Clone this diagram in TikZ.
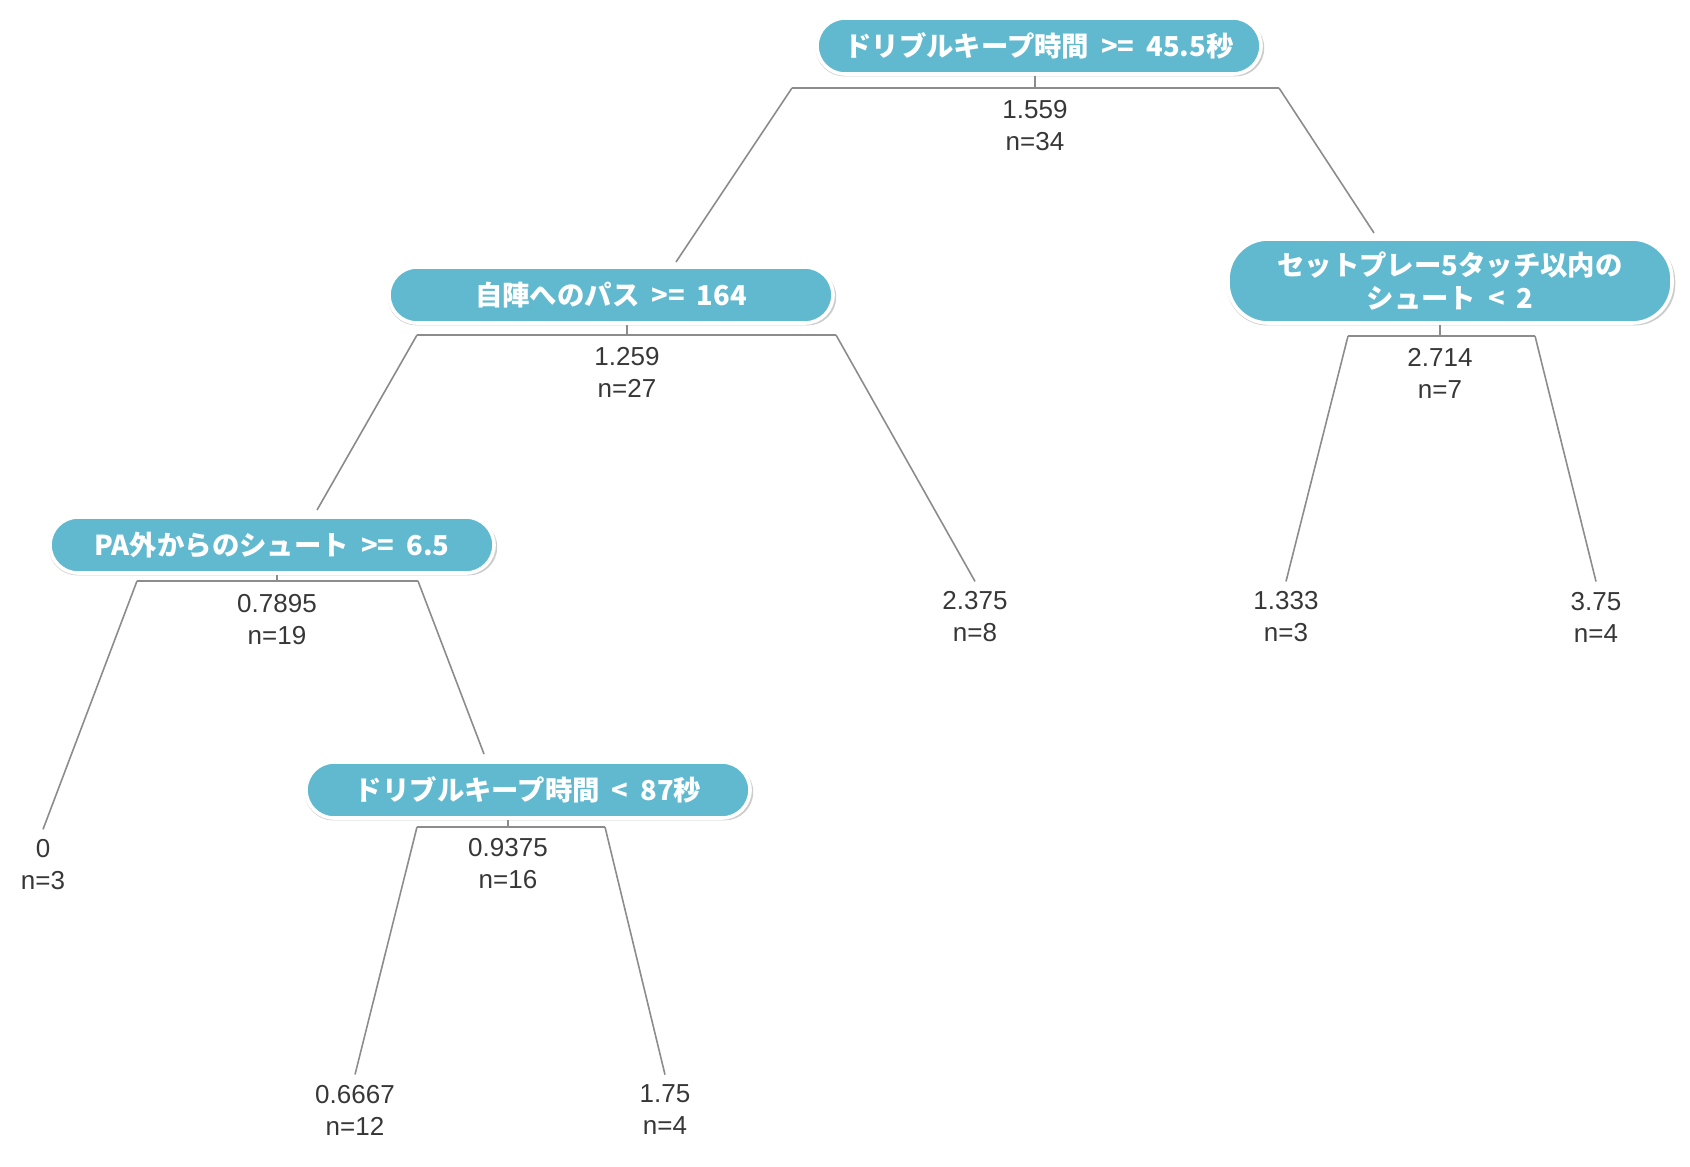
\documentclass[tikz,border=0pt]{standalone}
\usepackage{fontspec}
\setmainfont{Liberation Sans}
\newfontfamily\jpfont{Noto Sans CJK JP}[WordSpace=1.9]
\usetikzlibrary{positioning, shadows}
\definecolor{splitblue}{RGB}{96,185,207}
\definecolor{edgegray}{RGB}{140,140,140}
\definecolor{labelgray}{RGB}{55,55,55}
\tikzset{
  split/.style={draw=white, line width=1.8pt, fill=splitblue, rounded corners=14pt,
    minimum width=222pt, minimum height=28pt, align=center, text=white,
    font=\jpfont\bfseries\fontsize{13.7}{16.5}\selectfont,
    drop shadow={shadow xshift=0.5pt, shadow yshift=-1pt, shadow scale=1.01, opacity=0.4}},
  info/.style={align=center, text=labelgray, font=\fontsize{13}{16}\selectfont, inner sep=1pt},
  edge/.style={draw=edgegray, line width=0.8pt},
}

\begin{document}
\begin{tikzpicture}[x=0.5pt, y=-0.5pt]
    \useasboundingbox (0,0) rectangle (1690,1166);

    % Split nodes
    \node[split] (n1) at (1039,46) {ドリブルキープ時間 >= 45.5秒};
    \node[split] (n2) at (611,295) {自陣へのパス >= 164};
    \node[split, rounded corners=20pt, minimum height=42pt] (n3) at (1450,281) {セットプレー5タッチ以内の\\シュート < 2};
    \node[split] (n4) at (272,545) {PA外からのシュート >= 6.5};
    \node[split] (n5) at (528,790) {ドリブルキープ時間 < 87秒};

    % Values at each split
    \node[info] (v1) at (1035,126) {1.559\\n=34};
    \node[info] (v2) at (627,372) {1.259\\n=27};
    \node[info] (v3) at (1440,373) {2.714\\n=7};
    \node[info] (v4) at (277,620) {0.7895\\n=19};
    \node[info] (v5) at (508,864) {0.9375\\n=16};

    % Leaves
    \node[info] (la) at (43,865) {0\\n=3};
    \node[info] (lb) at (975,617) {2.375\\n=8};
    \node[info] (lc) at (1286,617) {1.333\\n=3};
    \node[info] (ld) at (1596,617) {3.75\\n=4};
    \node[info] (le) at (355,1110) {0.6667\\n=12};
    \node[info] (lf) at (665,1110) {1.75\\n=4};

    % Bar ends and branch tops
    \coordinate (j1) at (1035,88);
    \coordinate (j1l) at (792,88);
    \coordinate (j1r) at (1279,88);
    \coordinate (t2) at (676,262);
    \coordinate (t3) at (1374,233);
    \coordinate (j2l) at (417,335);
    \coordinate (j2r) at (836,335);
    \coordinate (t4) at (317,510);
    \coordinate (j3l) at (1348,336);
    \coordinate (j3r) at (1535,336);
    \coordinate (j4l) at (137,581);
    \coordinate (j4r) at (418,581);
    \coordinate (t5) at (484,754);
    \coordinate (j5l) at (417,827);
    \coordinate (j5r) at (605,827);

    % Root split
    \draw[edge] (n1.south -| j1) -- (j1);
    \draw[edge] (j1l) -- (j1r);
    \draw[edge] (j1l) -- (t2);
    \draw[edge] (j1r) -- (t3);

    % Second level
    \draw[edge] (n2.south -| v2) -- (v2.north |- j2l);
    \draw[edge] (j2l) -- (j2r);
    \draw[edge] (j2l) -- (t4);
    \draw[edge] (j2r) -- ([yshift=4pt]lb.north);

    \draw[edge] (n3.south -| v3) -- (v3.north |- j3l);
    \draw[edge] (j3l) -- (j3r);
    \draw[edge] (j3l) -- ([yshift=4pt]lc.north);
    \draw[edge] (j3r) -- ([yshift=4pt]ld.north);

    % Third level
    \draw[edge] (n4.south -| v4) -- (v4.north |- j4l);
    \draw[edge] (j4l) -- (j4r);
    \draw[edge] (j4l) -- ([yshift=4pt]la.north);
    \draw[edge] (j4r) -- (t5);

    % Fourth level
    \draw[edge] (n5.south -| v5) -- (v5.north |- j5l);
    \draw[edge] (j5l) -- (j5r);
    \draw[edge] (j5l) -- ([yshift=4pt]le.north);
    \draw[edge] (j5r) -- ([yshift=4pt]lf.north);
\end{tikzpicture}
\end{document}
